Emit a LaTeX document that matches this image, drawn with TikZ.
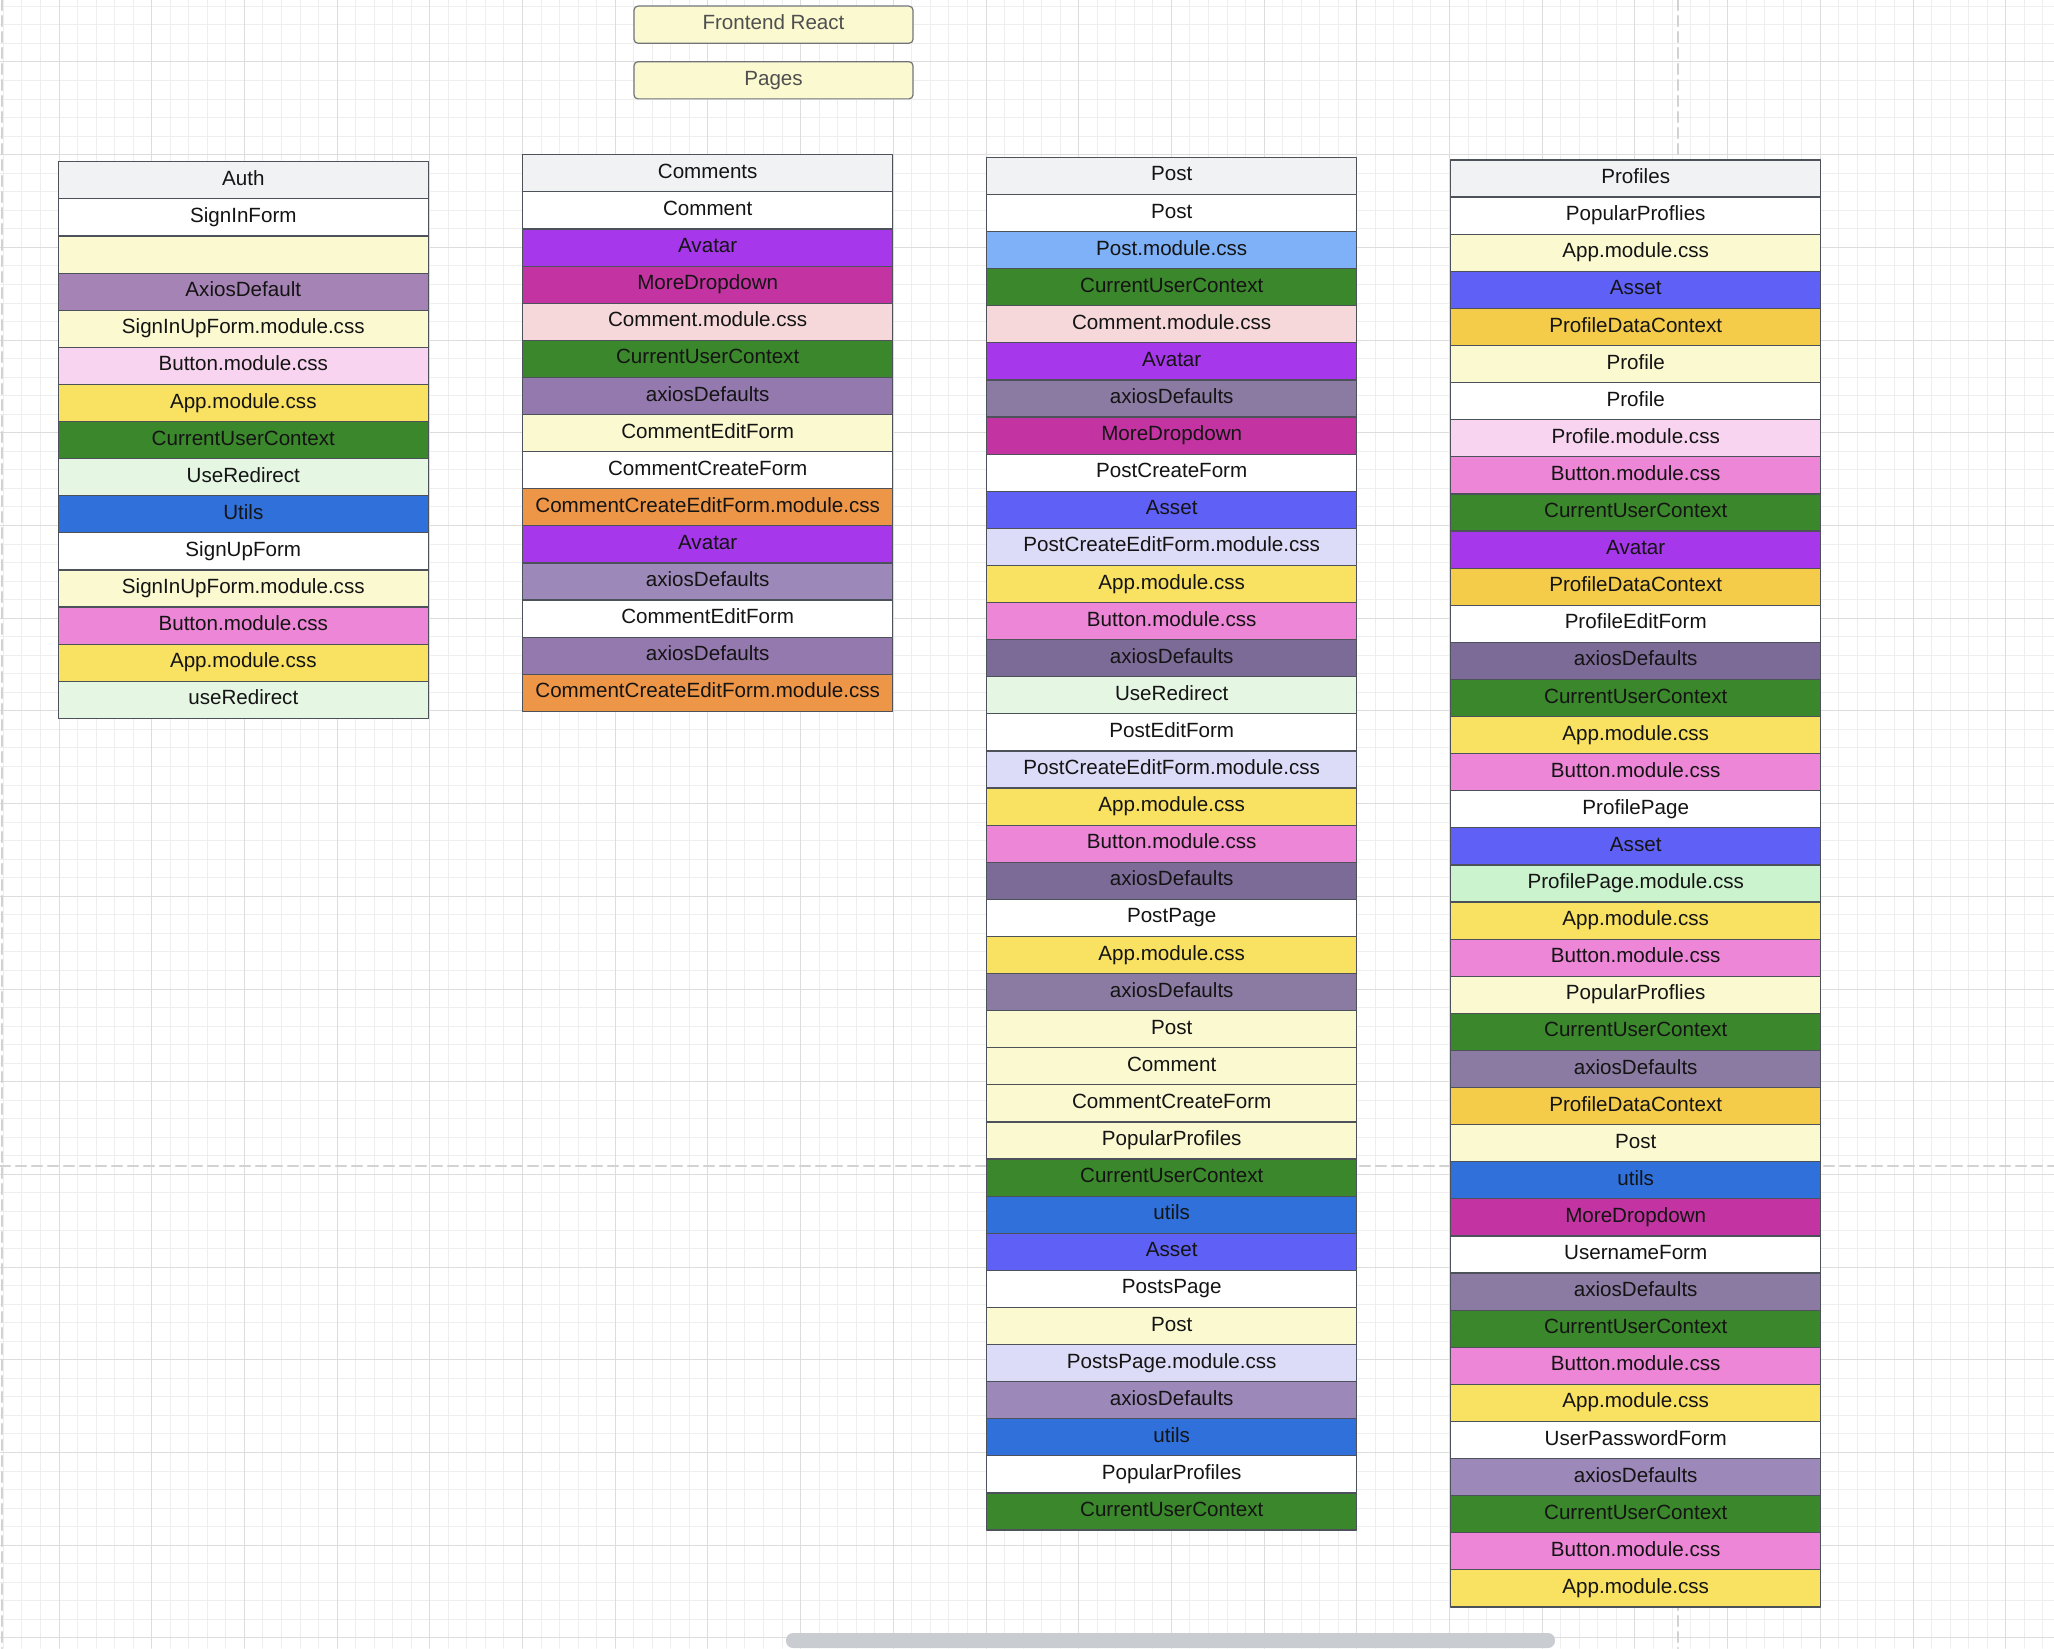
\documentclass[tikz,border=0pt]{standalone}
\usepackage{fontspec}
\setmainfont{Liberation Sans}
\usepackage{xcolor}
\usepackage{tikz}
\usetikzlibrary{positioning}
\definecolor{ink}{HTML}{141414}
\definecolor{edge}{HTML}{4D525A}
\definecolor{gridminor}{HTML}{EEEEEE}
\definecolor{gridmajor}{HTML}{DDDDDD}
\definecolor{guide}{HTML}{D2D2D2}
\definecolor{headgray}{HTML}{F1F2F4}
\definecolor{cream}{HTML}{FBF9D0}
\definecolor{axiosA}{HTML}{A683B5}
\definecolor{axiosB}{HTML}{9479AE}
\definecolor{axiosC}{HTML}{9C88B9}
\definecolor{axiosD}{HTML}{8B7BA2}
\definecolor{axiosE}{HTML}{7C6A97}
\definecolor{btnlight}{HTML}{F8D4F0}
\definecolor{btnpink}{HTML}{EE86D7}
\definecolor{appyellow}{HTML}{F9E162}
\definecolor{ctxgreen}{HTML}{3B872B}
\definecolor{redirgreen}{HTML}{E5F6E3}
\definecolor{utilblue}{HTML}{2F70DB}
\definecolor{avatarpurple}{HTML}{A737EB}
\definecolor{dropmagenta}{HTML}{C433A2}
\definecolor{commentpink}{HTML}{F6D8DA}
\definecolor{formorange}{HTML}{EE9648}
\definecolor{postblue}{HTML}{7EB1F7}
\definecolor{assetblue}{HTML}{5F60F5}
\definecolor{lavender}{HTML}{DDDCF8}
\definecolor{pdcgold}{HTML}{F4CC4A}
\definecolor{mintgreen}{HTML}{CBF3CD}
\definecolor{scrollgray}{HTML}{C9CCD1}
\tikzset{
  canvas diagram/.style={
    x=0.5pt, y=-0.5pt,
    font=\fontsize{10.3}{12}\selectfont,
    line cap=round,
    line join=round
  },
  gridline/.style={draw=gridminor, line width=0.5pt},
  gridbold/.style={draw=gridmajor, line width=0.5pt},
  guideline/.style={draw=guide, line width=1.3pt, dash pattern=on 5pt off 3pt},
  rowbox/.style={
    draw=edge,
    line width=0.6pt,
    minimum width=185pt,
    minimum height=18.55pt,
    text height=0.72em,
    text depth=0.21em,
    inner sep=0pt,
    outer sep=0pt,
    text=ink,
    fill=white
  },
  headrow/.style={rowbox, fill=headgray, anchor=north},
  whiterow/.style={rowbox, fill=white},
  creamrow/.style={rowbox, fill=cream},
  axiosrow/.style={rowbox, fill=axiosB},
  ctxrow/.style={rowbox, fill=ctxgreen},
  approw/.style={rowbox, fill=appyellow},
  btnrow/.style={rowbox, fill=btnpink},
  btnlightrow/.style={rowbox, fill=btnlight},
  redirrow/.style={rowbox, fill=redirgreen},
  utilrow/.style={rowbox, fill=utilblue},
  avatarrow/.style={rowbox, fill=avatarpurple},
  droprow/.style={rowbox, fill=dropmagenta},
  commcssrow/.style={rowbox, fill=commentpink},
  formcssrow/.style={rowbox, fill=formorange},
  postcssrow/.style={rowbox, fill=postblue},
  assetrow/.style={rowbox, fill=assetblue},
  lavrow/.style={rowbox, fill=lavender},
  pdcrow/.style={rowbox, fill=pdcgold},
  mintrow/.style={rowbox, fill=mintgreen},
  pagebox/.style={
    draw=edge!80,
    rounded corners=2pt,
    line width=0.6pt,
    fill=cream,
    text=ink!75,
    minimum width=139.5pt,
    minimum height=18.6pt,
    text height=0.72em,
    text depth=0.21em,
    inner sep=0pt
  }
}
\begin{document}
\begin{tikzpicture}[canvas diagram]
\useasboundingbox (0,0) rectangle (2054,1648);
\fill[white] (0,0) rectangle (2054,1648);
\foreach \k in {-3,...,107} \draw[gridline] ({59+18.54*\k},0) -- ({59+18.54*\k},1648);
\foreach \k in {-3,...,85} \draw[gridline] (0,{62+18.54*\k}) -- (2054,{62+18.54*\k});
\foreach \k in {0,...,21} \draw[gridbold] ({59+92.7*\k},0) -- ({59+92.7*\k},1648);
\foreach \k in {0,...,17} \draw[gridbold] (0,{62+92.7*\k}) -- (2054,{62+92.7*\k});
\draw[guideline] (2,0) -- (2,1648);
\draw[guideline] (1678,0) -- (1678,1648);
\draw[guideline] (0,1166) -- (2054,1166);
\fill[scrollgray, rounded corners=3.5pt] (786,1633) rectangle (1555,1648);

\node[pagebox] (frontend) at (773.5,24.7) {Frontend React};
\node[pagebox] (pages) at (773.5,80.3) {Pages};

\node[headrow] (auth0) at (243.3,161.8) {Auth};
\node[whiterow, below=0pt of auth0] (auth1) {SignInForm};
\node[creamrow, below=0pt of auth1] (auth2) {};
\node[axiosrow, fill=axiosA, below=0pt of auth2] (auth3) {AxiosDefault};
\node[creamrow, below=0pt of auth3] (auth4) {SignInUpForm.module.css};
\node[btnlightrow, below=0pt of auth4] (auth5) {Button.module.css};
\node[approw, below=0pt of auth5] (auth6) {App.module.css};
\node[ctxrow, below=0pt of auth6] (auth7) {CurrentUserContext};
\node[redirrow, below=0pt of auth7] (auth8) {UseRedirect};
\node[utilrow, below=0pt of auth8] (auth9) {Utils};
\node[whiterow, below=0pt of auth9] (auth10) {SignUpForm};
\node[creamrow, below=0pt of auth10] (auth11) {SignInUpForm.module.css};
\node[btnrow, below=0pt of auth11] (auth12) {Button.module.css};
\node[approw, below=0pt of auth12] (auth13) {App.module.css};
\node[redirrow, below=0pt of auth13] (auth14) {useRedirect};

\node[headrow] (comm0) at (707.7,154.8) {Comments};
\node[whiterow, below=0pt of comm0] (comm1) {Comment};
\node[avatarrow, below=0pt of comm1] (comm2) {Avatar};
\node[droprow, below=0pt of comm2] (comm3) {MoreDropdown};
\node[commcssrow, below=0pt of comm3] (comm4) {Comment.module.css};
\node[ctxrow, below=0pt of comm4] (comm5) {CurrentUserContext};
\node[axiosrow, below=0pt of comm5] (comm6) {axiosDefaults};
\node[creamrow, below=0pt of comm6] (comm7) {CommentEditForm};
\node[whiterow, below=0pt of comm7] (comm8) {CommentCreateForm};
\node[formcssrow, below=0pt of comm8] (comm9) {CommentCreateEditForm.module.css};
\node[avatarrow, below=0pt of comm9] (comm10) {Avatar};
\node[axiosrow, fill=axiosC, below=0pt of comm10] (comm11) {axiosDefaults};
\node[whiterow, below=0pt of comm11] (comm12) {CommentEditForm};
\node[axiosrow, below=0pt of comm12] (comm13) {axiosDefaults};
\node[formcssrow, below=0pt of comm13] (comm14) {CommentCreateEditForm.module.css};

\node[headrow] (post0) at (1171.7,157.3) {Post};
\node[whiterow, below=0pt of post0] (post1) {Post};
\node[postcssrow, below=0pt of post1] (post2) {Post.module.css};
\node[ctxrow, below=0pt of post2] (post3) {CurrentUserContext};
\node[commcssrow, below=0pt of post3] (post4) {Comment.module.css};
\node[avatarrow, below=0pt of post4] (post5) {Avatar};
\node[axiosrow, fill=axiosD, below=0pt of post5] (post6) {axiosDefaults};
\node[droprow, below=0pt of post6] (post7) {MoreDropdown};
\node[whiterow, below=0pt of post7] (post8) {PostCreateForm};
\node[assetrow, below=0pt of post8] (post9) {Asset};
\node[lavrow, below=0pt of post9] (post10) {PostCreateEditForm.module.css};
\node[approw, below=0pt of post10] (post11) {App.module.css};
\node[btnrow, below=0pt of post11] (post12) {Button.module.css};
\node[axiosrow, fill=axiosE, below=0pt of post12] (post13) {axiosDefaults};
\node[redirrow, below=0pt of post13] (post14) {UseRedirect};
\node[whiterow, below=0pt of post14] (post15) {PostEditForm};
\node[lavrow, below=0pt of post15] (post16) {PostCreateEditForm.module.css};
\node[approw, below=0pt of post16] (post17) {App.module.css};
\node[btnrow, below=0pt of post17] (post18) {Button.module.css};
\node[axiosrow, fill=axiosE, below=0pt of post18] (post19) {axiosDefaults};
\node[whiterow, below=0pt of post19] (post20) {PostPage};
\node[approw, below=0pt of post20] (post21) {App.module.css};
\node[axiosrow, fill=axiosD, below=0pt of post21] (post22) {axiosDefaults};
\node[creamrow, below=0pt of post22] (post23) {Post};
\node[creamrow, below=0pt of post23] (post24) {Comment};
\node[creamrow, below=0pt of post24] (post25) {CommentCreateForm};
\node[creamrow, below=0pt of post25] (post26) {PopularProfiles};
\node[ctxrow, below=0pt of post26] (post27) {CurrentUserContext};
\node[utilrow, below=0pt of post27] (post28) {utils};
\node[assetrow, below=0pt of post28] (post29) {Asset};
\node[whiterow, below=0pt of post29] (post30) {PostsPage};
\node[creamrow, below=0pt of post30] (post31) {Post};
\node[lavrow, below=0pt of post31] (post32) {PostsPage.module.css};
\node[axiosrow, fill=axiosC, below=0pt of post32] (post33) {axiosDefaults};
\node[utilrow, below=0pt of post33] (post34) {utils};
\node[whiterow, below=0pt of post34] (post35) {PopularProfiles};
\node[ctxrow, below=0pt of post35] (post36) {CurrentUserContext};

\node[headrow] (prof0) at (1635.7,160) {Profiles};
\node[whiterow, below=0pt of prof0] (prof1) {PopularProflies};
\node[creamrow, below=0pt of prof1] (prof2) {App.module.css};
\node[assetrow, below=0pt of prof2] (prof3) {Asset};
\node[pdcrow, below=0pt of prof3] (prof4) {ProfileDataContext};
\node[creamrow, below=0pt of prof4] (prof5) {Profile};
\node[whiterow, below=0pt of prof5] (prof6) {Profile};
\node[btnlightrow, below=0pt of prof6] (prof7) {Profile.module.css};
\node[btnrow, below=0pt of prof7] (prof8) {Button.module.css};
\node[ctxrow, below=0pt of prof8] (prof9) {CurrentUserContext};
\node[avatarrow, below=0pt of prof9] (prof10) {Avatar};
\node[pdcrow, below=0pt of prof10] (prof11) {ProfileDataContext};
\node[whiterow, below=0pt of prof11] (prof12) {ProfileEditForm};
\node[axiosrow, fill=axiosE, below=0pt of prof12] (prof13) {axiosDefaults};
\node[ctxrow, below=0pt of prof13] (prof14) {CurrentUserContext};
\node[approw, below=0pt of prof14] (prof15) {App.module.css};
\node[btnrow, below=0pt of prof15] (prof16) {Button.module.css};
\node[whiterow, below=0pt of prof16] (prof17) {ProfilePage};
\node[assetrow, below=0pt of prof17] (prof18) {Asset};
\node[mintrow, below=0pt of prof18] (prof19) {ProfilePage.module.css};
\node[approw, below=0pt of prof19] (prof20) {App.module.css};
\node[btnrow, below=0pt of prof20] (prof21) {Button.module.css};
\node[creamrow, below=0pt of prof21] (prof22) {PopularProflies};
\node[ctxrow, below=0pt of prof22] (prof23) {CurrentUserContext};
\node[axiosrow, fill=axiosD, below=0pt of prof23] (prof24) {axiosDefaults};
\node[pdcrow, below=0pt of prof24] (prof25) {ProfileDataContext};
\node[creamrow, below=0pt of prof25] (prof26) {Post};
\node[utilrow, below=0pt of prof26] (prof27) {utils};
\node[droprow, below=0pt of prof27] (prof28) {MoreDropdown};
\node[whiterow, below=0pt of prof28] (prof29) {UsernameForm};
\node[axiosrow, fill=axiosD, below=0pt of prof29] (prof30) {axiosDefaults};
\node[ctxrow, below=0pt of prof30] (prof31) {CurrentUserContext};
\node[btnrow, below=0pt of prof31] (prof32) {Button.module.css};
\node[approw, below=0pt of prof32] (prof33) {App.module.css};
\node[whiterow, below=0pt of prof33] (prof34) {UserPasswordForm};
\node[axiosrow, fill=axiosC, below=0pt of prof34] (prof35) {axiosDefaults};
\node[ctxrow, below=0pt of prof35] (prof36) {CurrentUserContext};
\node[btnrow, below=0pt of prof36] (prof37) {Button.module.css};
\node[approw, below=0pt of prof37] (prof38) {App.module.css};
\end{tikzpicture}
\end{document}
